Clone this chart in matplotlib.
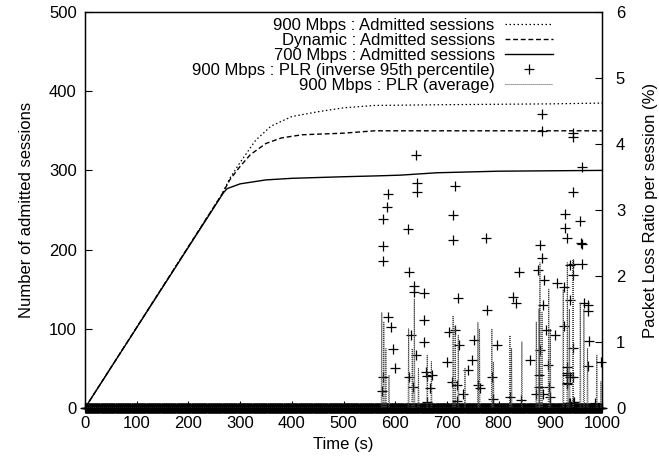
import numpy as np
import matplotlib
matplotlib.use("Agg")
import matplotlib.pyplot as plt

plt.rcParams['font.family'] = ['Liberation Sans', 'DejaVu Sans']
plt.rcParams['font.size'] = 12

# admitted sessions, read at key times (s, sessions)
t_900 = [0, 265, 280, 300, 330, 360, 400, 450, 500, 560, 700, 900, 1000]
n_900 = [0, 270, 290, 310, 338, 356, 368, 374, 379, 382, 383, 384, 385]

t_dyn = [0, 265, 280, 300, 320, 350, 380, 420, 500, 560, 1000]
n_dyn = [0, 270, 288, 305, 320, 334, 341, 345, 347, 350, 350]

t_700 = [0, 268, 275, 300, 350, 400, 500, 560, 610, 680, 800, 1000]
n_700 = [0, 272, 277, 283, 288, 290, 292, 293, 294, 297, 299, 300]

# PLR inverse 95th percentile: sampled every second, zero except these
plr95_t = [577, 577, 586, 584, 577, 625, 641, 643, 643, 716, 712, 712,
           627, 637, 637, 656, 656, 586, 592, 595, 600, 630, 640, 655, 660, 668,
           700, 705, 710, 722, 716, 724, 749, 753, 776, 778, 797, 828, 834, 840,
           861, 883, 884, 881, 883, 877, 888, 886, 892, 881, 896, 879, 912, 910,
           943, 943, 962, 943, 929, 958, 929, 933, 960, 961, 943, 939, 962, 944,
           927, 939, 966, 972, 972, 927, 974, 944, 933, 933, 933, 939, 972, 944,
           998, 987, 939, 946,
           577, 575, 627, 635, 662, 671, 662, 720, 720, 731, 741, 761, 764, 787,
           790, 822, 843, 873, 879, 886, 898, 900, 933, 933, 937, 944]
plr95_v = [2.86, 2.23, 3.24, 3.05, 2.45, 2.71, 3.83, 3.41, 3.27, 3.36, 2.92, 2.55,
           2.06, 1.85, 1.76, 1.74, 1.33, 1.38, 1.23, 0.9, 0.6, 1.1, 0.8, 1.0, 0.55, 0.3,
           0.7, 1.15, 0.4, 1.67, 1.18, 0.95, 0.73, 1.03, 2.58, 1.48, 0.95, 1.68, 1.59, 2.06,
           0.73, 4.45, 4.2, 2.47, 2.27, 2.09, 1.94, 1.56, 1.18, 0.88, 0.65, 0.5, 1.89, 1.1,
           4.17, 4.1, 3.65, 3.27, 2.94, 2.83, 2.73, 2.58, 2.5, 2.48, 2.18, 2.17, 2.18, 2.02,
           1.83, 1.64, 1.59, 1.56, 1.47, 1.24, 1.02, 0.91, 0.62, 0.53, 0.38, 0.47, 0.64, 0.47,
           0.7, 0.08, 0.08, 0.09,
           0.47, 0.26, 0.47, 0.32, 0.48, 0.5, 0.09, 0.35, 0.1, 0.21, 0.58, 0.35, 0.3, 0.47,
           0.14, 0.17, 0.12, 0.21, 0.32, 0.21, 0.32, 0.17, 0.5, 0.36, 0.08, 0.09]

# PLR average: zero except short spikes (s, %)
avg_t = [574, 578, 582, 588, 626, 633, 637, 645, 662, 670, 712, 716, 722, 735,
         760, 763, 787, 790, 822, 825, 845, 873, 878, 880, 884, 897, 900, 925, 933,
         937, 944, 958, 965, 972, 990, 998]
avg_v = [1.45, 1.3, 0.9, 0.5, 1.2, 0.9, 1.65, 0.6, 0.8, 0.7, 1.4, 1.25, 1.1, 0.6,
         1.3, 1.2, 1.2, 0.7, 1.1, 0.9, 1.0, 1.3, 1.5, 2.2, 1.45, 1.8, 1.2, 1.8, 2.2,
         1.5, 2.25, 1.6, 1.5, 0.9, 0.8, 0.4]

sample_t = np.arange(0, 1001)
plr95 = np.zeros(len(sample_t))
extra_t = np.array(plr95_t)
extra_v = np.array(plr95_v)

avg = np.zeros(len(sample_t))
avg[np.array(avg_t)] = avg_v

W, H = 659, 462
fig = plt.figure(figsize=(W / 100, H / 100), dpi=100)
ax = fig.add_axes([85 / W, 1 - 408 / H, (602 - 85) / W, (408 - 12) / H])
ax2 = ax.twinx()

ax.plot(t_900, n_900, color='black', lw=0.9, ls=(0, (1.2, 2)),
        label='900 Mbps : Admitted sessions')
ax.plot(t_dyn, n_dyn, color='black', lw=1.0, ls=(0, (3.5, 2)),
        label='Dynamic : Admitted sessions')
ax.plot(t_700, n_700, color='black', lw=1.0, label='700 Mbps : Admitted sessions')

ax2.plot(np.concatenate([sample_t, extra_t]), np.concatenate([plr95, extra_v]),
         ls='none', marker='+', ms=6.5, mew=0.9, color='black', clip_on=False,
         label='900 Mbps : PLR (inverse 95th percentile)')
ax2.plot(sample_t, avg, color='#444444', lw=0.8, ls=(0, (0.8, 1.0)),
         label='900 Mbps : PLR (average)')

ax.set_xlim(0, 1000)
ax.set_ylim(0, 500)
ax2.set_ylim(0, 6)
ax.set_xticks(range(0, 1001, 100))
ax.set_yticks(range(0, 501, 100))
ax2.set_yticks(range(0, 7))
ax.tick_params(direction='in', length=5, width=0.8, top=False, right=False, pad=6)
ax2.tick_params(direction='in', length=5, width=0.8, pad=10)
for a in (ax, ax2):
    for s in a.spines.values():
        s.set_linewidth(0.9)

ax.set_xlabel('Time (s)', labelpad=4)
ax.set_ylabel('Number of admitted sessions', labelpad=11)
ax2.set_ylabel('Packet Loss Ratio per session (%)', labelpad=13)

h1, l1 = ax.get_legend_handles_labels()
h2, l2 = ax2.get_legend_handles_labels()
ax2.legend(h1 + h2, l1 + l2, loc='upper right', frameon=False,
           markerfirst=False, borderpad=0, borderaxespad=0,
           handlelength=2.9, handletextpad=0.6, labelspacing=0.0,
           bbox_to_anchor=(553 / W, 1 - 18 / H), bbox_transform=fig.transFigure)

fig.savefig('out.png', dpi=100)
